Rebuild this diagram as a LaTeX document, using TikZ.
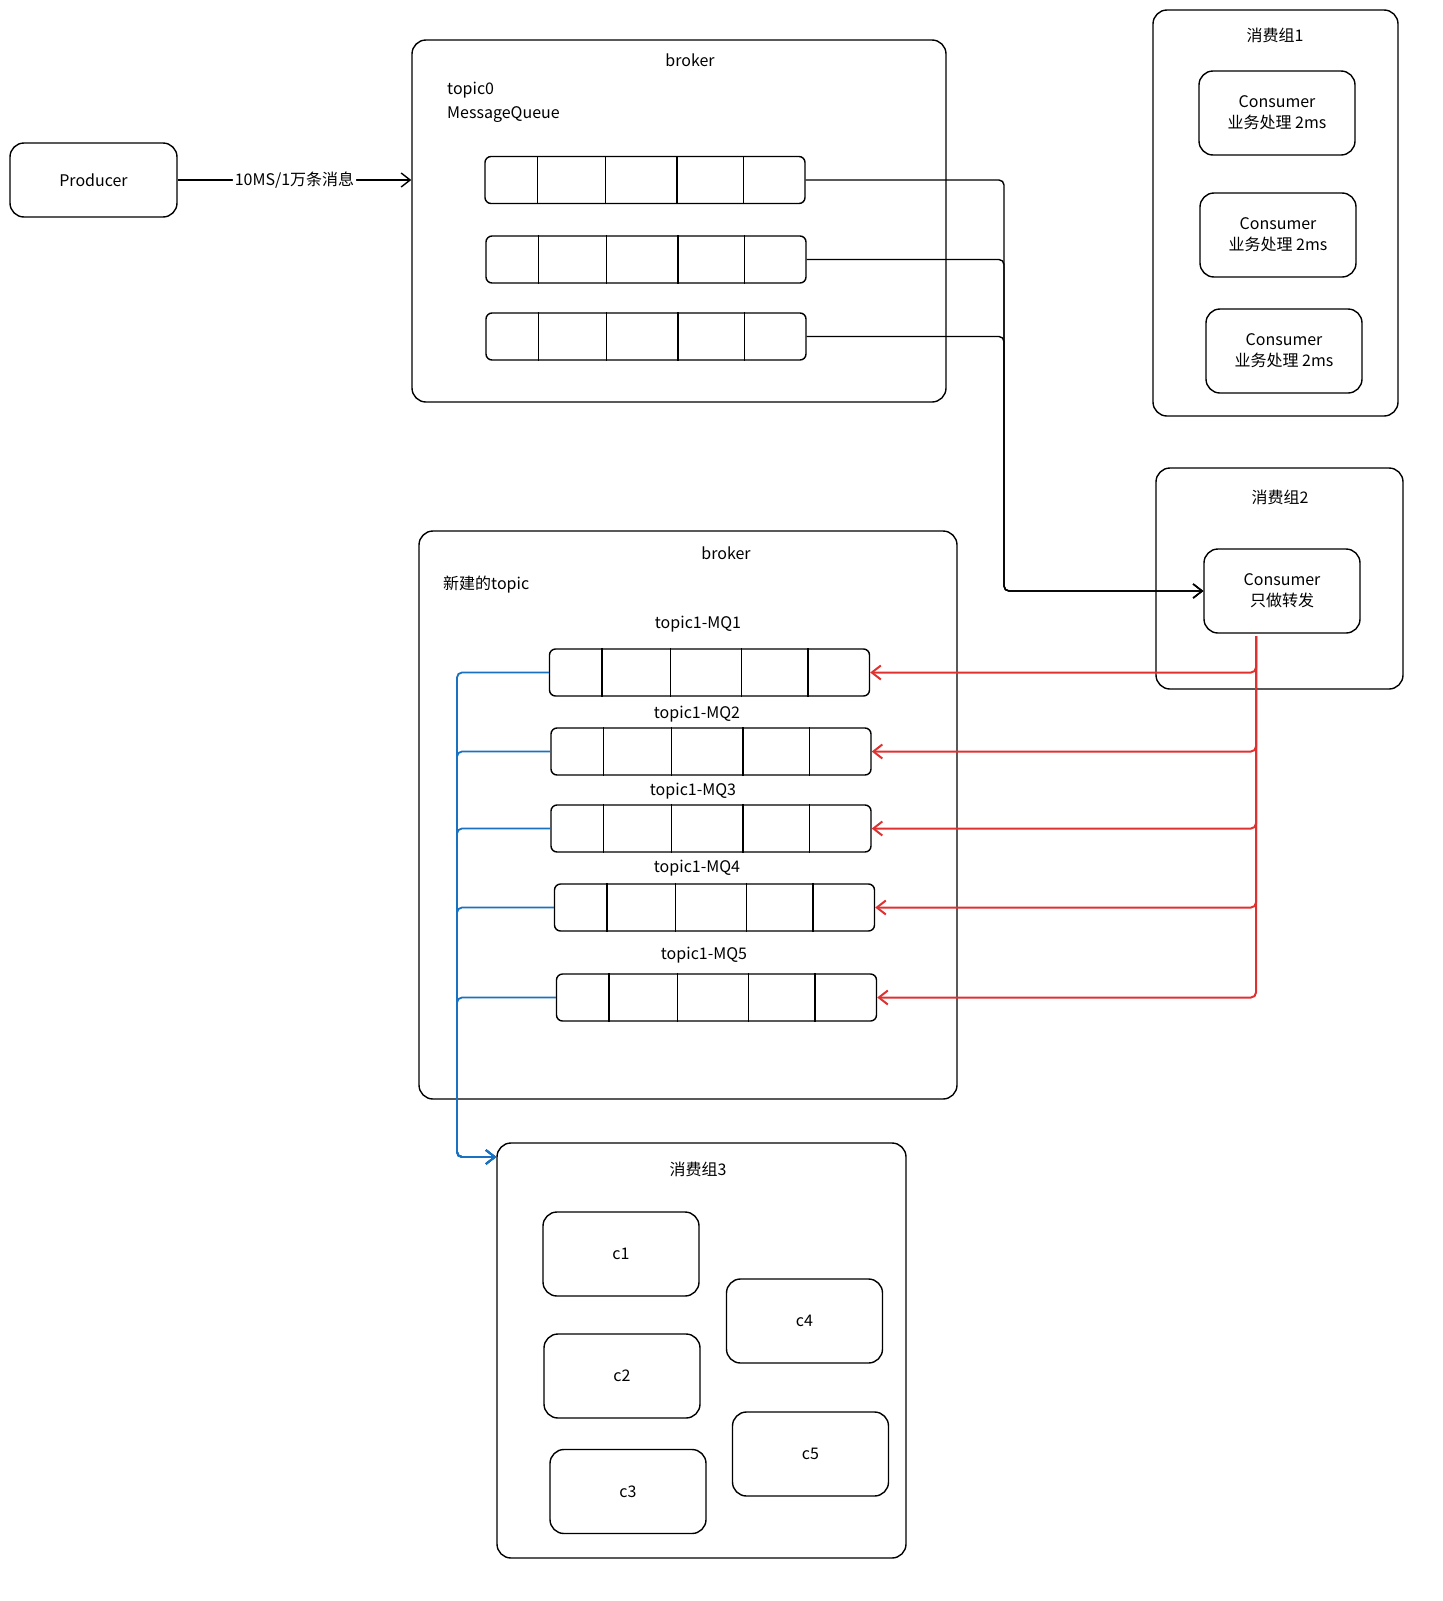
\documentclass[tikz,border=0pt]{standalone}
\usepackage{fontspec}
\newfontfamily\cjk{Noto Sans CJK SC}
\usetikzlibrary{arrows.meta,calc}

\tikzset{
  box/.style={draw, line width=1.4pt, rounded corners=14pt, inner sep=0pt, align=center},
  queue/.style={draw, line width=1.4pt, rounded corners=6pt, minimum width=320pt, minimum height=47pt, inner sep=0pt},
  txt/.style={inner sep=0pt, align=center},
  link/.style={line width=1.4pt, rounded corners=5pt, -{Straight Barb[length=9pt,width=14pt]}},
}
\definecolor{linkred}{RGB}{224,49,49}
\definecolor{linkblue}{RGB}{25,113,194}

\newcommand{\slots}[1]{%
  \foreach \f in {0.166,0.378,0.6,0.806}
    \draw[line width=1.4pt] ($(#1.south west)!\f!(#1.south east)$) -- ($(#1.north west)!\f!(#1.north east)$);}

\begin{document}
\begin{tikzpicture}[x=1pt,y=-1pt,font=\cjk\fontsize{16}{21}\selectfont]
  \useasboundingbox (0,0) rectangle (1443,1601);

  % producer
  \node[box, minimum width=167pt, minimum height=74pt] (prod) at (93.5,180) {Producer};

  % broker with topic0
  \node[box, minimum width=534pt, minimum height=362pt] (brk1) at (679,221) {};
  \node[txt] at (690,60) {broker};
  \node[txt, anchor=west] at (447,90) {topic0};
  \node[txt, anchor=west] at (447,115) {MessageQueue};
  \node[queue] (q1) at (645,180) {};
  \node[queue] (q2) at (646,259.5) {};
  \node[queue] (q3) at (646,336.5) {};
  \slots{q1} \slots{q2} \slots{q3}

  \draw[link] (prod.east) -- node[fill=white, inner sep=2pt] {10MS/1万条消息} (brk1.west |- prod.east);

  % group 1
  \node[box, minimum width=245pt, minimum height=406pt] (g1) at (1275.5,213) {};
  \node[txt] at (1275,35) {消费组1};
  \node[box, minimum width=156pt, minimum height=84pt] (c11) at (1277,113) {Consumer\\业务处理 2ms};
  \node[box, minimum width=156pt, minimum height=84pt] (c12) at (1278,235) {Consumer\\业务处理 2ms};
  \node[box, minimum width=156pt, minimum height=84pt] (c13) at (1284,351) {Consumer\\业务处理 2ms};

  % group 2
  \node[box, minimum width=247pt, minimum height=221pt] (g2) at (1279.5,578.5) {};
  \node[txt] at (1280,497) {消费组2};
  \node[box, minimum width=156pt, minimum height=84pt] (fwd) at (1282,591) {Consumer\\只做转发};

  \coordinate (jb) at (1004,591);
  \draw[link] (q1.east) -| (jb) -- (fwd.west);
  \draw[link] (q2.east) -| (jb) -- (fwd.west);
  \draw[link] (q3.east) -| (jb) -- (fwd.west);

  % broker with new topic
  \node[box, minimum width=538pt, minimum height=568pt] (brk2) at (688,815) {};
  \node[txt] at (726,553) {broker};
  \node[txt, anchor=west] at (443,585) {新建的topic};
  \node[queue] (m1) at (709.5,672.5) {};
  \node[queue] (m2) at (711,751.5) {};
  \node[queue] (m3) at (711,828.5) {};
  \node[queue] (m4) at (714.5,907.5) {};
  \node[queue] (m5) at (716.5,997.5) {};
  \slots{m1} \slots{m2} \slots{m3} \slots{m4} \slots{m5}
  \node[txt] at (698,624) {topic1-MQ1};
  \node[txt] at (697,714) {topic1-MQ2};
  \node[txt] at (693,791) {topic1-MQ3};
  \node[txt] at (697,868) {topic1-MQ4};
  \node[txt] at (704,955) {topic1-MQ5};

  % group 3
  \node[box, minimum width=409pt, minimum height=415pt] (g3) at (701.5,1350.5) {};
  \node[txt] at (698,1169) {消费组3};
  \node[box, minimum width=156pt, minimum height=84pt] (ca) at (621,1254) {c1};
  \node[box, minimum width=156pt, minimum height=84pt] (cb) at (622,1376) {c2};
  \node[box, minimum width=156pt, minimum height=84pt] (cc) at (628,1491.5) {c3};
  \node[box, minimum width=156pt, minimum height=84pt] (cd) at (804.5,1321) {c4};
  \node[box, minimum width=156pt, minimum height=84pt] (ce) at (810.5,1454) {c5};

  % forwarding links
  \coordinate (rt) at (1256,636);
  \foreach \m in {m1,m2,m3,m4,m5}
    \draw[link, linkred, line width=2pt] (rt) |- (\m.east);

  \coordinate (bl) at (457,1157);
  \foreach \m in {m1,m2,m3,m4,m5}
    \draw[link, linkblue, line width=1.8pt] (\m.west) -| (bl) -- (bl -| g3.west);
\end{tikzpicture}
\end{document}
